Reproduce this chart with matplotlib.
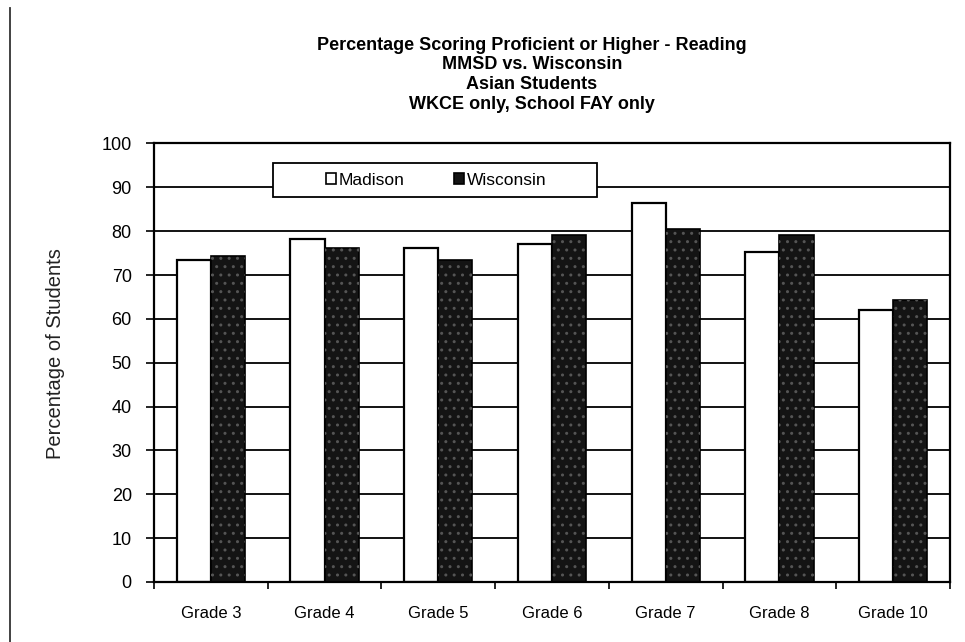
import numpy as np
import matplotlib
matplotlib.use("Agg")
import matplotlib.pyplot as plt
from matplotlib.patches import Rectangle, Patch
from matplotlib.lines import Line2D

plt.rcParams['font.family'] = ['Liberation Sans', 'DejaVu Sans']

grades = ["Grade 3", "Grade 4", "Grade 5", "Grade 6", "Grade 7", "Grade 8", "Grade 10"]
madison = [73.4, 78.2, 76.1, 77.1, 86.4, 75.3, 62.0]
wisconsin = [74.3, 76.1, 73.4, 79.1, 80.5, 79.1, 64.2]
series_names = ["Madison", "Wisconsin"]
yticks = list(range(0, 101, 10))

title = ("Percentage Scoring Proficient or Higher - Reading\n"
         "MMSD vs. Wisconsin\nAsian Students\nWKCE only, School FAY only")

fig = plt.figure(figsize=(9.65, 6.42), dpi=100)
ax = fig.add_axes([154/965, 1-582/642, 796/965, 438.5/642])

x = np.arange(len(grades))
w = 0.3
dark = '#141414'

# gridlines behind bars
for v in yticks[1:]:
    ax.axhline(v, color='black', lw=1.3, zorder=1)

ax.bar(x - w/2, madison, w, color='white', edgecolor='black', lw=1.6, zorder=3)
ax.bar(x + w/2, wisconsin, w, color=dark, edgecolor='black', lw=1.2, zorder=3)
# stipple on the dark bars
ax.bar(x + w/2, wisconsin, w, fill=False, hatch='..', edgecolor='#555555', lw=0, zorder=4)

ax.set_xlim(-0.5, len(grades) - 0.5)
ax.set_ylim(0, 100)
ax.set_yticks(yticks)
ax.tick_params(axis='y', length=6, width=1.2, pad=10, labelsize=13, direction='out')
ax.set_xticks(x)
ax.set_xticklabels(grades)
ax.set_xticks(np.arange(len(grades) + 1) - 0.5, minor=True)
ax.tick_params(axis='x', which='major', length=0, pad=17, labelsize=12)
ax.tick_params(axis='x', which='minor', length=5, width=1.2, direction='out')
for s in ax.spines.values():
    s.set_color('black')
    s.set_linewidth(1.6)
    s.set_zorder(5)

ax.set_ylabel("Percentage of Students", fontsize=14.5, color='#222222')
ax.yaxis.set_label_coords(-0.112, 0.52)

# legend box
box = Rectangle((0.1495, 0.878), 0.407, 0.0775, transform=ax.transAxes,
                facecolor='white', edgecolor='black', lw=1.3, zorder=6)
ax.add_patch(box)
handles = [Patch(facecolor='white', edgecolor='black', lw=1.2),
           Patch(facecolor=dark, edgecolor='black', lw=1.2)]
ax.legend(handles, series_names, loc='center', bbox_to_anchor=(0.3545, 0.9165),
          ncol=2, frameon=False, fontsize=12.5, handlelength=0.55, handleheight=0.55,
          handletextpad=0.15, columnspacing=2.9).set_zorder(7)

fig.text(0.551, 0.943, title, ha='center', va='top', fontsize=13,
         fontweight='bold', linespacing=1.22)

# left border of the page
fig.add_artist(Line2D([9.5/965, 9.5/965], [0, 1-8/642], color='#333333', lw=1.3))

fig.savefig("out.png", dpi=100)
